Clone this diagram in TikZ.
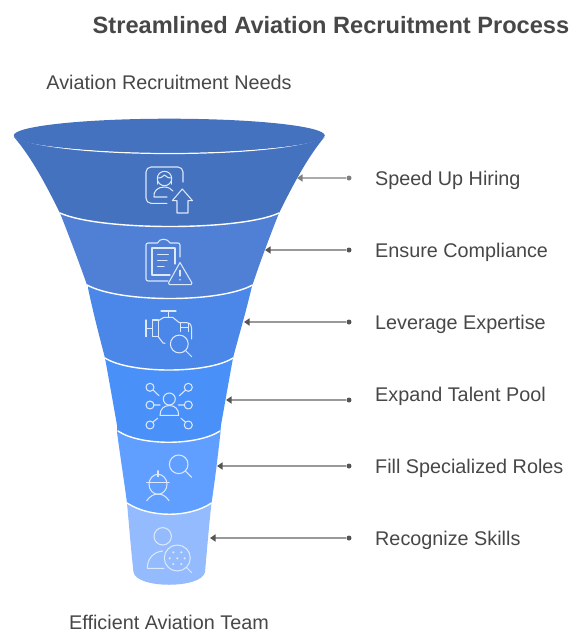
\documentclass[tikz,border=0pt]{standalone}
\usepackage{fontspec}
\setmainfont{Liberation Sans}
\usetikzlibrary{arrows.meta}
\definecolor{ink}{HTML}{474747}
\definecolor{ico}{HTML}{DCE8FB}
\definecolor{s1}{HTML}{4472BF}\definecolor{s2}{HTML}{4F80D6}\definecolor{s3}{HTML}{4B87E8}
\definecolor{s4}{HTML}{4A90F9}\definecolor{s5}{HTML}{609FFF}\definecolor{s6}{HTML}{94BBFE}
\tikzset{
  seg/.style={fill=#1,draw=none},
  sepline/.style={draw=white,line width=1.4pt,line cap=round},
  icon/.style={draw=ico,line width=1.05pt,line cap=round,line join=round},
  lab/.style={text=ink,font=\fontsize{19.8}{24}\selectfont,inner sep=0pt},
  capt/.style={lab,anchor=base},
  rowlab/.style={lab,anchor=base west},
  rowdot/.style={circle,fill=#1,inner sep=0pt,minimum size=5pt},
  conn/.style 2 args={draw=#1,line width=1.5pt,-{Triangle[length=5.5pt,width=7pt,color=#2]}}
}
\begin{document}
\begin{tikzpicture}[x=1pt,y=-1pt]
\useasboundingbox (0,0) rectangle (581,638);
% funnel, bottom up
\path[seg=s6] (127,495) -- (127,503) .. controls (129,525) and (131,550) .. (133.5,572)
  .. controls (136,589) and (202,589) .. (205,572)
  .. controls (207,550) and (209,525) .. (211.5,503) -- (211.5,495) -- cycle;
\path[seg=s5] (117,425) -- (117,432) .. controls (120,455) and (124,480) .. (127,503)
  .. controls (150,518) and (189,518) .. (211.5,503)
  .. controls (215,480) and (218,455) .. (220.5,432) -- (220.5,425) -- cycle;
\draw[sepline] (127,503) .. controls (150,518) and (189,518) .. (211.5,503);
\path[seg=s4] (105,350) -- (105,358) .. controls (109,380) and (114,408) .. (118,431)
  .. controls (140,446) and (197,446) .. (220,431)
  .. controls (224,408) and (229,380) .. (233,358) -- (233,350) -- cycle;
\draw[sepline] (118,431) .. controls (140,446) and (197,446) .. (220,431);
\path[seg=s3] (88,280) -- (88,288) .. controls (93,312) and (99,335) .. (105,358)
  .. controls (130,374) and (208,374) .. (233,358)
  .. controls (239,335) and (246,312) .. (252,286) -- (252,280) -- cycle;
\draw[sepline] (105,358) .. controls (130,374) and (208,374) .. (233,358);
\path[seg=s2] (60,205) -- (60,213) .. controls (69,236) and (79,262) .. (87,285)
  .. controls (120,303) and (220,303) .. (252.5,285)
  .. controls (260,262) and (270,236) .. (279,213) -- (279,205) -- cycle;
\draw[sepline] (87,285) .. controls (120,303) and (220,303) .. (252.5,285);
\path[seg=s1] (14,137) .. controls (32,158) and (46,185) .. (60,213)
  .. controls (100,231) and (240,231) .. (279,213)
  .. controls (293,185) and (307,158) .. (324.5,137) -- cycle;
\draw[sepline] (60,213) .. controls (100,231) and (240,231) .. (279,213);
\draw[sepline,line width=1.2pt] (15,137) .. controls (60,159) and (279,159) .. (323.5,137);
\fill[s1] (169.25,135.5) ellipse [x radius=155.5,y radius=16.8];
% icon 1
\draw[icon] (167,203.3) -- (151,203.3) arc[start angle=90,end angle=180,radius=5] -- (146,172) arc[start angle=180,end angle=270,radius=5] -- (178,167) arc[start angle=270,end angle=360,radius=5] -- (183,182);
\draw[icon] (164.5,178.5) circle (7.2);
\draw[icon] (157.5,178) .. controls (160,179) and (162,177) .. (164.5,175) .. controls (167,177) and (169,179) .. (171.5,178);
\draw[icon] (157.3,184) -- (157.3,178.5) (171.7,184) -- (171.7,178.5);
\draw[icon] (167,197) -- (154,197) .. controls (153,191) and (158,187) .. (164,187) .. controls (168,187) and (171,188.5) .. (173,191);
\draw[icon] (182.3,189) -- (192.5,200.7) -- (188,200.7) -- (188,213) -- (177,213) -- (177,200.7) -- (172.3,200.7) -- cycle;
% icon 2
\draw[icon] (168,281) -- (148,281) arc[start angle=90,end angle=180,radius=2] -- (146,245) arc[start angle=180,end angle=270,radius=2] -- (157.5,243) .. controls (159,238) and (168,238) .. (170,243) -- (178,243) arc[start angle=270,end angle=360,radius=2] -- (180,257);
\draw[icon] (170,275) -- (152,275) -- (152,248) -- (175,248) -- (175,264);
\draw[icon] (157.7,254.7) -- (168.3,254.7) (157.7,260.3) -- (167,260.3) (157.7,266.3) -- (164,266.3);
\draw[icon] (180,262.5) -- (192,283) -- (191,284.7) -- (169.5,284.7) -- (168.5,283) -- cycle;
\draw[icon] (180,270.3) -- (180,276);
\fill[ico] (180,279.7) circle (0.9);
% icon 3
\draw[icon] (161,311) -- (176,311) (168.7,311) -- (168.7,317.3);
\draw[icon] (158.3,320.7) -- (164,317.3) -- (172.7,317.3) -- (179.3,322.7) -- (186.7,322.7) .. controls (190,323) and (191.7,325) .. (191.7,328) -- (191.7,339);
\draw[icon] (180.7,323.3) -- (180.7,331.7) (180.7,327.3) -- (188.3,327.3) (188.3,323.3) -- (188.3,331.7);
\draw[icon] (146,320) -- (146,336.7) (146,328.3) -- (152.7,328.3);
\draw[icon] (152.7,320) -- (158.3,320) -- (158.3,336.7) -- (152.7,336.7) -- cycle;
\draw[icon] (158.3,336.7) -- (163,343) -- (165,343.3);
\draw[icon] (179.3,344) circle (8.9) (185.7,350.7) -- (191.7,356.7);
% icon 4
\draw[icon] (169.3,399) circle (6);
\draw[icon] (160,415.3) .. controls (160,409) and (164,405.5) .. (169.3,405.5) .. controls (175,405.5) and (178.7,409) .. (178.7,415.3) -- cycle;
\draw[icon] (150,387.3) circle (4) (153,390) -- (159,395.7);
\draw[icon] (188.3,387.3) circle (4) (185.3,390.3) -- (179.3,395.7);
\draw[icon] (150,405) circle (4) (154,405) -- (160,405);
\draw[icon] (188.3,405) circle (4) (184.3,405) -- (178.3,405);
\draw[icon] (150,425) circle (4) (153,422) -- (157.7,418.3);
\draw[icon] (188.3,425) circle (4) (185.3,422) -- (181,418.3);
% icon 5
\draw[icon] (178.7,464.3) circle (9.3) (185.3,471) -- (191.7,477.3);
\draw[icon] (158,484.3) ellipse [x radius=9,y radius=10];
\draw[icon] (146.7,482.3) -- (169,482.3) (158,470.7) -- (158,476.7);
\draw[icon] (146.7,500.7) .. controls (150,496) and (154,494) .. (158,494) .. controls (162,494) and (166,496) .. (169,500.7);
% icon 6
\draw[icon] (162.7,536.3) circle (8.7);
\draw[icon] (164,568.3) -- (147.3,568.3) .. controls (147.3,559) and (153,552) .. (162.7,551);
\draw[icon] (177.3,558) circle (13) (186.7,567.7) -- (191.7,572.7);
\foreach \p/\q in {173.3/552.3,181.3/552.3,169.7/558.3,177.3/558.3,184.7/558.3,173.3/564,181.3/564}
  \fill[ico] (\p,\q) circle (1.2);
% captions
\node[capt,font=\bfseries\fontsize{23.6}{28}\selectfont] (title) at (331,33) {Streamlined Aviation Recruitment Process};
\node[capt] (top) at (169,89) {Aviation Recruitment Needs};
\node[capt] (bot) at (169,629) {Efficient Aviation Team};
% rows
\foreach \n/\yy/\by/\tx/\cl/\ch/\txt in {
  a/178/185/297/ABABAB/7F7F7F/Speed Up Hiring,
  b/250/257/265/999999/555555/Ensure Compliance,
  c/322/329/244/999999/555555/Leverage Expertise,
  d/400/401/226/999999/555555/Expand Talent Pool,
  e/466/473/217/999999/555555/Fill Specialized Roles,
  f/538/545/210/999999/555555/Recognize Skills}{
  \definecolor{cl}{HTML}{\cl}\definecolor{ch}{HTML}{\ch}
  \node[rowdot=ch] (d\n) at (349,\yy) {};
  \coordinate (t\n) at (\tx,\yy);
  \node[rowlab] (l\n) at (375,\by) {\txt};
  \draw[conn={cl}{ch}] (d\n) -- (t\n);
}
\end{tikzpicture}
\end{document}
